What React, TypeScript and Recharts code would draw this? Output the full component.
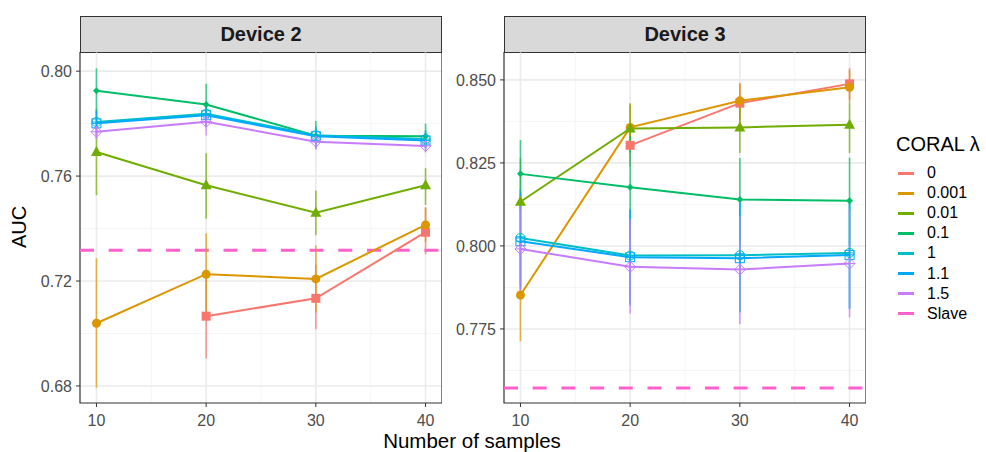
import { ComposedChart, Line, XAxis, YAxis, CartesianGrid, ErrorBar, ReferenceLine, ReferenceArea } from 'recharts';

const FONT = '"Liberation Sans", Arial, sans-serif';

const samples = [10, 20, 30, 40];
const lambdas = ['0', '0.001', '0.01', '0.1', '1', '1.1', '1.5'];
const colors = ['#F8766D', '#DB9600', '#70AD00', '#00BE67', '#00BFC4', '#00A9FF', '#C77CFF'];
const shapes = ['square', 'circle', 'triangle', 'diamond', 'circlePlus', 'squarePlus', 'diamondPlus'];
const slaveColor = '#FF61CC';

// Device 2: mean AUC per lambda (rows) and sample size (cols), plus error bar ends
const dev2Mean = [
  [null, 0.7066, 0.7134, 0.7386],
  [0.7039, 0.7226, 0.7208, 0.7414],
  [0.7692, 0.7565, 0.746, 0.7565],
  [0.7925, 0.7873, 0.7754, 0.7752],
  [0.7806, 0.7838, 0.7756, 0.7741],
  [0.7801, 0.7832, 0.7752, 0.7736],
  [0.7769, 0.7807, 0.7731, 0.7715],
];
const dev2Low = [
  [null, 0.6905, 0.7016, 0.7302],
  [0.6793, 0.707, 0.708, 0.735],
  [0.7527, 0.7437, 0.7374, 0.749],
  [0.784, 0.7795, 0.7705, 0.7705],
  [0.776, 0.7795, 0.772, 0.771],
  [0.7755, 0.779, 0.7715, 0.7705],
  [0.774, 0.7755, 0.77, 0.769],
];
const dev2High = [
  [null, 0.7225, 0.7262, 0.748],
  [0.7287, 0.7382, 0.7335, 0.748],
  [0.7856, 0.7687, 0.7545, 0.763],
  [0.8011, 0.7952, 0.781, 0.78],
  [0.785, 0.788, 0.779, 0.7775],
  [0.7845, 0.7875, 0.7785, 0.777],
  [0.78, 0.784, 0.776, 0.774],
];
const dev2Slave = 0.7317;

// Device 3
const dev3Mean = [
  [null, 0.8303, 0.843, 0.8488],
  [0.7852, 0.8357, 0.8437, 0.8478],
  [0.8133, 0.8354, 0.8357, 0.8365],
  [0.8217, 0.8177, 0.814, 0.8136],
  [0.8024, 0.7971, 0.7972, 0.7979],
  [0.8014, 0.7966, 0.7963, 0.7973],
  [0.7991, 0.7937, 0.7929, 0.7947],
];
const dev3Low = [
  [null, 0.824, 0.837, 0.844],
  [0.7713, 0.829, 0.838, 0.843],
  [0.8, 0.828, 0.828, 0.828],
  [0.811, 0.802, 0.801, 0.8],
  [0.788, 0.7826, 0.78, 0.7812],
  [0.787, 0.782, 0.78, 0.781],
  [0.7862, 0.7796, 0.7764, 0.7785],
];
const dev3High = [
  [null, 0.8365, 0.849, 0.8536],
  [0.799, 0.8425, 0.849, 0.853],
  [0.8265, 0.843, 0.843, 0.843],
  [0.8319, 0.833, 0.8265, 0.8266],
  [0.817, 0.811, 0.814, 0.814],
  [0.816, 0.811, 0.813, 0.8135],
  [0.812, 0.808, 0.809, 0.811],
];
const dev3Slave = 0.7572;

const dev2Ticks = [0.68, 0.72, 0.76, 0.8];
const dev2Minor = [0.7, 0.74, 0.78];
const dev3Ticks = [0.775, 0.8, 0.825, 0.85];
const dev3Minor = [0.7625, 0.7875, 0.8125, 0.8375];
const xMinor = [15, 25, 35];

function buildRows(mean: (number | null)[][], low: (number | null)[][], high: (number | null)[][]) {
  return samples.map((x, i) => {
    const row: Record<string, any> = { x };
    lambdas.forEach((_, k) => {
      const m = mean[k][i];
      row[`m${k}`] = m;
      if (m != null) row[`e${k}`] = [m - (low[k][i] as number), (high[k][i] as number) - m];
    });
    return row;
  });
}

function Marker({ cx, cy, shape, color }: { cx?: number; cy?: number; shape: string; color: string }) {
  if (cx == null || cy == null || Number.isNaN(cy)) return null;
  const open = { fill: 'none', stroke: color, strokeWidth: 1 };
  switch (shape) {
    case 'square':
      return <rect x={cx - 4.5} y={cy - 4.5} width={9} height={9} fill={color} />;
    case 'circle':
      return <circle cx={cx} cy={cy} r={4.5} fill={color} />;
    case 'triangle':
      return <polygon points={`${cx},${cy - 6} ${cx - 5.5},${cy + 4} ${cx + 5.5},${cy + 4}`} fill={color} />;
    case 'diamond':
      return <polygon points={`${cx},${cy - 3.5} ${cx + 3.5},${cy} ${cx},${cy + 3.5} ${cx - 3.5},${cy}`} fill={color} />;
    case 'circlePlus':
      return (
        <g {...open}>
          <circle cx={cx} cy={cy} r={4.5} />
          <path d={`M${cx - 4.5},${cy}H${cx + 4.5}M${cx},${cy - 4.5}V${cy + 4.5}`} />
        </g>
      );
    case 'squarePlus':
      return (
        <g {...open}>
          <rect x={cx - 4.5} y={cy - 4.5} width={9} height={9} />
          <path d={`M${cx - 4.5},${cy}H${cx + 4.5}M${cx},${cy - 4.5}V${cy + 4.5}`} />
        </g>
      );
    default:
      return (
        <g {...open}>
          <polygon points={`${cx},${cy - 5.5} ${cx + 5.5},${cy} ${cx},${cy + 5.5} ${cx - 5.5},${cy}`} />
          <path d={`M${cx - 5.5},${cy}H${cx + 5.5}M${cx},${cy - 5.5}V${cy + 5.5}`} />
        </g>
      );
  }
}

interface PanelProps {
  left: number;
  axisWidth: number;
  title: string;
  rows: Record<string, any>[];
  domain: [number, number];
  ticks: number[];
  minor: number[];
  digits: number;
  slave: number;
}

function Panel({ left, axisWidth, title, rows, domain, ticks, minor, digits, slave }: PanelProps) {
  const width = axisWidth + 362;
  return (
    <>
      <div style={{
        position: 'absolute',
        left: left + axisWidth,
        top: 16,
        width: 362,
        height: 37,
        boxSizing: 'border-box',
        background: '#D9D9D9',
        border: '1px solid #333',
        display: 'flex',
        alignItems: 'center',
        justifyContent: 'center',
        fontFamily: FONT,
        fontWeight: 'bold',
        fontSize: 20,
        color: '#1A1A1A',
      }}>
        {title}
      </div>
      <div style={{ position: 'absolute', left, top: 52 }}>
        <ComposedChart width={width} height={399} data={rows} margin={{ top: 0, right: 0, bottom: 0, left: 0 }}>
          <CartesianGrid horizontalValues={minor} verticalValues={xMinor} stroke="#F2F2F2" strokeWidth={0.8} />
          <CartesianGrid horizontalValues={ticks} verticalValues={samples} stroke="#EBEBEB" strokeWidth={1.6} />
          <XAxis
            type="number"
            dataKey="x"
            domain={[8.5, 41.5]}
            ticks={samples}
            allowDataOverflow
            height={48}
            axisLine={false}
            tickLine={{ stroke: '#333' }}
            tickSize={4}
            tickMargin={8}
            tick={{ fill: '#4D4D4D', fontSize: 16, fontFamily: FONT }}
          />
          <YAxis
            type="number"
            domain={domain}
            ticks={ticks}
            allowDataOverflow
            width={axisWidth}
            axisLine={false}
            tickLine={{ stroke: '#333' }}
            tickSize={4}
            tickMargin={4}
            tickFormatter={(v: number) => v.toFixed(digits)}
            tick={{ fill: '#4D4D4D', fontSize: 16, fontFamily: FONT }}
          />
          <ReferenceLine y={slave} stroke={slaveColor} strokeWidth={3} strokeDasharray="14 14.7" />
          {lambdas.map((name, k) => (
            <Line
              key={name}
              dataKey={`m${k}`}
              name={name}
              type="linear"
              stroke={colors[k]}
              strokeWidth={2}
              isAnimationActive={false}
              connectNulls={false}
              dot={(p: any) => (
                <Marker key={`${name}-${p.index}`} cx={p.cx} cy={p.cy} shape={shapes[k]} color={colors[k]} />
              )}
              activeDot={false}
            >
              <ErrorBar dataKey={`e${k}`} direction="y" width={0} stroke={colors[k] + 'B8'} strokeWidth={1.6} />
            </Line>
          ))}
          <ReferenceArea x1={8.5} x2={41.5} y1={domain[0]} y2={domain[1]} fill="none" stroke="#333" strokeWidth={1.2} ifOverflow="visible" />
        </ComposedChart>
      </div>
    </>
  );
}

export default function App() {
  const rows2 = buildRows(dev2Mean, dev2Low, dev2High);
  const rows3 = buildRows(dev3Mean, dev3Low, dev3High);
  const legendNames = [...lambdas, 'Slave'];
  const legendColors = [...colors, slaveColor];

  return (
    <div style={{ position: 'absolute', left: 0, top: 0, width: 986, height: 452, background: '#fff', overflow: 'hidden', fontFamily: FONT }}>
      <Panel left={0} axisWidth={80} title="Device 2" rows={rows2} domain={[0.6735, 0.8073]} ticks={dev2Ticks} minor={dev2Minor} digits={2} slave={dev2Slave} />
      <Panel left={444} axisWidth={60} title="Device 3" rows={rows3} domain={[0.7527, 0.8584]} ticks={dev3Ticks} minor={dev3Minor} digits={3} slave={dev3Slave} />

      {/* axis titles */}
      <div style={{ position: 'absolute', left: 19, top: 227, transform: 'translate(-50%, -50%) rotate(-90deg)', fontSize: 20, color: '#000', whiteSpace: 'nowrap' }}>
        AUC
      </div>
      <div style={{ position: 'absolute', left: 472, top: 441, transform: 'translate(-50%, -50%)', fontSize: 20.5, color: '#000', whiteSpace: 'nowrap' }}>
        Number of samples
      </div>

      {/* legend */}
      <div style={{ position: 'absolute', left: 896, top: 133, fontSize: 20, color: '#000', whiteSpace: 'nowrap' }}>
        CORAL λ
      </div>
      {legendNames.map((name, i) => (
        <div key={name} style={{ position: 'absolute', left: 898, top: 173 + i * 20.1 - 10, height: 20, display: 'flex', alignItems: 'center' }}>
          <span style={{ display: 'inline-block', width: 16, height: 3, background: legendColors[i], marginRight: 13 }} />
          <span style={{ fontSize: 16, color: '#000' }}>{name}</span>
        </div>
      ))}
    </div>
  );
}
